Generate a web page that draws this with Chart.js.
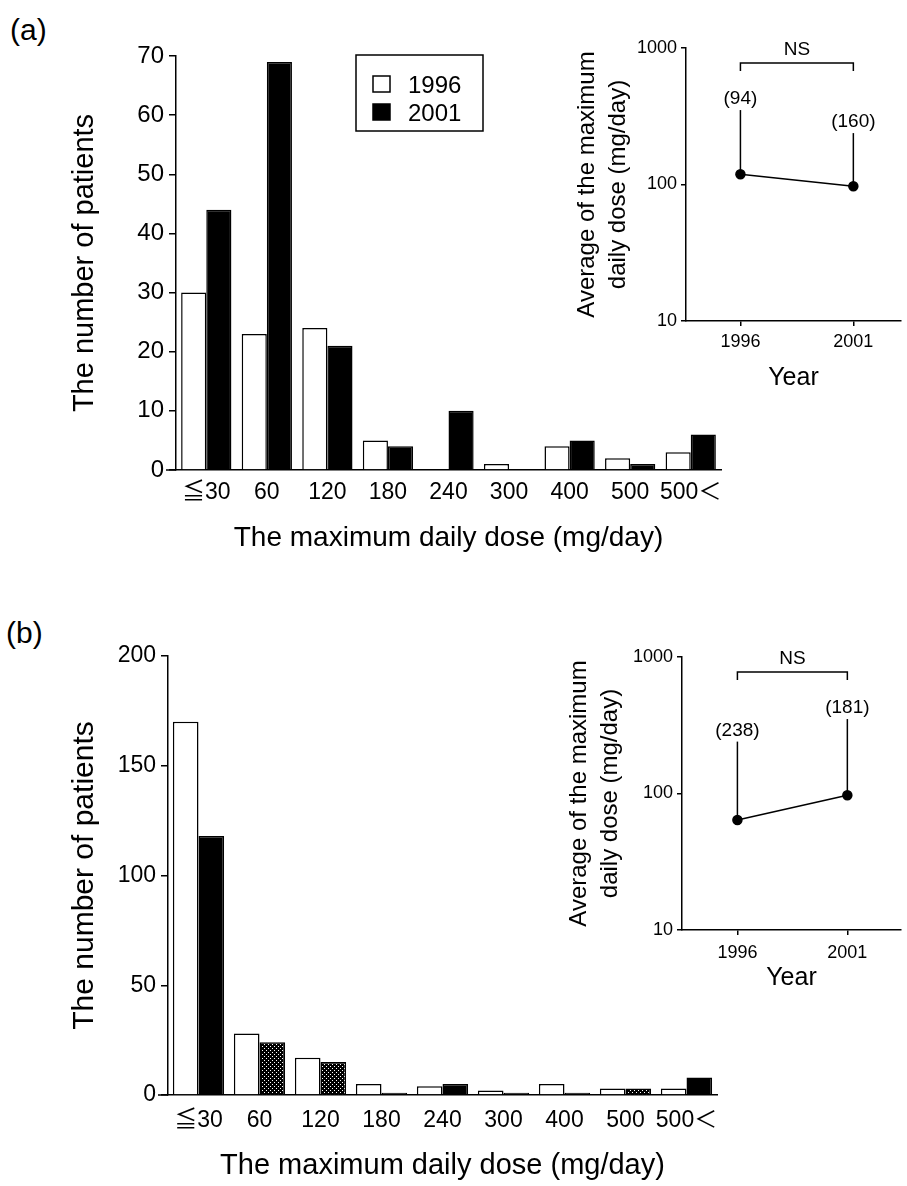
<!DOCTYPE html>
<html>
<head>
<meta charset="utf-8">
<script src="https://cdn.jsdelivr.net/npm/chart.js@4.4.1/dist/chart.umd.min.js"></script>
<style>
  body { margin: 0; background: #fff; }
  #page { position: relative; width: 907px; height: 1186px; font-family: "Liberation Sans", Arial, sans-serif; color: #000; }
  canvas { position: absolute; }
  .tag { position: absolute; font-size: 30px; line-height: 34px; }
</style>
</head>
<body>
<div id="page">
  <div class="tag" style="left:10px; top:13px">(a)</div>
  <div class="tag" style="left:6px; top:616px">(b)</div>
  <canvas id="barA" width="740" height="570" style="left:0; top:0"></canvas>
  <canvas id="insetA" width="367" height="400" style="left:540px; top:0"></canvas>
  <canvas id="barB" width="740" height="586" style="left:0; top:600px"></canvas>
  <canvas id="insetB" width="367" height="400" style="left:540px; top:600px"></canvas>
</div>
<script>
// data
const doseLabels = ['≦30', '60', '120', '180', '240', '300', '400', '500', '500＜'];
const seriesNames = ['1996', '2001'];

// (a)
const patientsA1996 = [30, 23, 24, 5, 0, 1, 4, 2, 3];
const patientsA2001 = [44, 69, 21, 4, 10, 0, 5, 1, 6];
// (b)
const patientsB1996 = [170, 28, 17, 5, 4, 2, 5, 3, 3];
const patientsB2001 = [118, 24, 15, 1, 5, 1, 1, 3, 8];

// insets: average of the maximum daily dose, upper error bar, n
const years = [1996, 2001];
const logTicks = [10, 100, 1000];
const meanDoseA = [119, 97];
const errTopA = [351, 238];
const countA = [94, 160];
const meanDoseB = [64, 97];
const errTopB = [240, 351];
const countB = [238, 181];

const FONT = '"Liberation Sans", Arial, sans-serif';
const TICK_FONT = '"Liberation Sans", "Noto Sans CJK JP", sans-serif';
Chart.defaults.font.family = FONT;
Chart.defaults.color = '#000';

// speckled fill used for some 2001 bars in (b)
function speckle() {
  const c = document.createElement('canvas');
  c.width = 8; c.height = 8;
  const g = c.getContext('2d');
  g.fillStyle = '#000';
  g.fillRect(0, 0, 8, 8);
  g.fillStyle = '#fff';
  for (let i = 0; i < 8; i++) {
    for (let j = 0; j < 8; j++) {
      if ((i * 5 + j * 3 + i * j) % 4 === 0) g.fillRect(i, j, 1, 1);
    }
  }
  return g.createPattern(c, 'repeat');
}

// x axis line runs a little to the left of the y axis
const axisStub = {
  id: 'axisStub',
  afterDraw(chart) {
    const { ctx, chartArea } = chart;
    ctx.save();
    ctx.strokeStyle = '#000';
    ctx.lineWidth = 1.5;
    ctx.beginPath();
    ctx.moveTo(chartArea.left - 10, chartArea.bottom);
    ctx.lineTo(chartArea.left, chartArea.bottom);
    ctx.stroke();
    ctx.restore();
  }
};

// framed legend like the figure's
const boxLegend = {
  id: 'boxLegend',
  afterDraw(chart, args, opts) {
    if (!opts.show) return;
    const ctx = chart.ctx;
    ctx.save();
    ctx.strokeStyle = '#000';
    ctx.lineWidth = 1.5;
    ctx.strokeRect(opts.x, opts.y, opts.w, opts.h);
    ctx.font = '24px ' + FONT;
    ctx.textBaseline = 'middle';
    chart.data.datasets.forEach((ds, i) => {
      const cy = opts.rows[i];
      ctx.fillStyle = ds.legendFill;
      ctx.fillRect(opts.x + 17, cy - 8, 17, 16);
      ctx.strokeRect(opts.x + 17, cy - 8, 17, 16);
      ctx.fillStyle = '#000';
      ctx.fillText(ds.label, opts.x + 52, cy + 2);
    });
    ctx.restore();
  }
};

function makeBar(id, d1996, d2001, cfg) {
  const ctx = document.getElementById(id).getContext('2d');
  const fill2001 = d2001.map((v, i) => cfg.speckled.includes(i) ? speckle() : '#000');
  return new Chart(ctx, {
    type: 'bar',
    data: {
      labels: doseLabels,
      datasets: [
        { label: seriesNames[0], data: d1996, backgroundColor: '#fff', legendFill: '#fff',
          borderColor: '#000', borderWidth: 1.5 },
        { label: seriesNames[1], data: d2001, backgroundColor: fill2001, legendFill: '#000',
          borderColor: '#000', borderWidth: 1.5 }
      ]
    },
    options: {
      responsive: false,
      animation: false,
      devicePixelRatio: 1,
      layout: { padding: { left: 0, top: 56, right: cfg.right, bottom: 0 } },
      datasets: { bar: { categoryPercentage: cfg.catPct, barPercentage: 1.0 } },
      plugins: {
        legend: { display: false },
        tooltip: { enabled: false },
        boxLegend: cfg.legend
      },
      scales: {
        x: {
          grid: { display: false, drawTicks: false },
          border: { display: true, color: '#000', width: 1.5 },
          ticks: { color: '#000', font: { size: 23, family: TICK_FONT }, padding: cfg.xTickPad,
                   autoSkip: false, maxRotation: 0, minRotation: 0 },
          title: { display: true, text: 'The maximum daily dose (mg/day)', color: '#000',
                   font: { size: cfg.xTitleSize }, padding: { top: 0, bottom: cfg.xTitlePad } },
          afterFit: s => { s.height = cfg.xHeight; }
        },
        y: {
          min: 0, max: cfg.yMax,
          grid: { drawOnChartArea: false, drawTicks: true, tickLength: 7, color: '#000', lineWidth: 1.5 },
          border: { display: true, color: '#000', width: 1.5 },
          ticks: { stepSize: cfg.yStep, color: '#000', font: { size: cfg.yTickSize }, padding: 5 },
          title: { display: true, text: 'The number of patients', color: '#000',
                   font: { size: cfg.yTitleSize }, padding: { top: cfg.yTitlePad, bottom: 0 } },
          afterFit: s => { s.width = cfg.yWidth; }
        }
      }
    },
    plugins: [axisStub, boxLegend]
  });
}

// vertical upper error bars, the (n) labels and the NS bracket
const errBars = {
  id: 'errBars',
  beforeDatasetsDraw(chart, args, opts) {
    const { ctx, scales: { x, y }, chartArea } = chart;
    ctx.save();
    ctx.strokeStyle = '#000';
    ctx.fillStyle = '#000';
    ctx.lineWidth = 1.5;
    ctx.font = '19px ' + FONT;
    ctx.textAlign = 'center';
    ctx.textBaseline = 'middle';
    years.forEach((yr, i) => {
      const px = x.getPixelForValue(yr);
      const top = y.getPixelForValue(opts.tops[i]);
      ctx.beginPath();
      ctx.moveTo(px, y.getPixelForValue(opts.means[i]));
      ctx.lineTo(px, top);
      ctx.stroke();
      ctx.fillText('(' + opts.counts[i] + ')', px, top - 11);
    });
    const x0 = x.getPixelForValue(years[0]);
    const x1 = x.getPixelForValue(years[1]);
    const by = chartArea.top + 15;
    ctx.beginPath();
    ctx.moveTo(x0, by + 8);
    ctx.lineTo(x0, by);
    ctx.lineTo(x1, by);
    ctx.lineTo(x1, by + 8);
    ctx.stroke();
    ctx.fillText('NS', (x0 + x1) / 2, by - 13);
    ctx.restore();
  }
};

function makeInset(id, means, tops, counts, cfg) {
  const ctx = document.getElementById(id).getContext('2d');
  return new Chart(ctx, {
    type: 'line',
    data: {
      datasets: [{
        data: years.map((yr, i) => ({ x: yr, y: means[i] })),
        borderColor: '#000', borderWidth: 1.5, tension: 0,
        pointRadius: 4.5, pointBackgroundColor: '#000', pointBorderColor: '#000'
      }]
    },
    options: {
      responsive: false,
      animation: false,
      devicePixelRatio: 1,
      layout: { padding: { left: 0, top: cfg.top, right: 0, bottom: 0 } },
      plugins: {
        legend: { display: false },
        tooltip: { enabled: false },
        errBars: { means: means, tops: tops, counts: counts }
      },
      scales: {
        x: {
          type: 'linear', min: cfg.xMin, max: cfg.xMax,
          afterBuildTicks: s => { s.ticks = years.map(v => ({ value: v })); },
          grid: { drawOnChartArea: false, drawTicks: true, tickLength: 5, color: '#000', lineWidth: 1.5 },
          border: { display: true, color: '#000', width: 1.5 },
          ticks: { color: '#000', font: { size: 18 }, padding: cfg.xTickPad, callback: v => String(v) },
          title: { display: true, text: 'Year', color: '#000', font: { size: 25 }, padding: { top: 0, bottom: 7 } },
          afterFit: s => { s.height = cfg.xHeight; }
        },
        y: {
          type: 'logarithmic', min: 10, max: 1000,
          afterBuildTicks: s => { s.ticks = logTicks.map(v => ({ value: v })); },
          grid: { drawOnChartArea: false, drawTicks: true, tickLength: 5, color: '#000', lineWidth: 1.5 },
          border: { display: true, color: '#000', width: 1.5 },
          ticks: { color: '#000', font: { size: 18 }, padding: 4, callback: v => String(v) },
          title: { display: true, text: ['Average of the maximum', 'daily dose (mg/day)'], color: '#000',
                   font: { size: 24, lineHeight: 31 / 24 }, padding: { top: cfg.yTitlePad, bottom: 0 } },
          afterFit: s => { s.width = cfg.yWidth; }
        }
      }
    },
    plugins: [errBars]
  });
}

makeBar('barA', patientsA1996, patientsA2001, {
  right: 19, catPct: 0.83, yMax: 70, yStep: 10, yWidth: 176, xHeight: 100,
  xTickPad: 9, xTitleSize: 28, xTitlePad: 15, yTickSize: 24, yTitleSize: 29, yTitlePad: 67.6,
  speckled: [],
  legend: { show: true, x: 356, y: 55, w: 127, h: 76, rows: [84, 112] }
});

makeBar('barB', patientsB1996, patientsB2001, {
  right: 23, catPct: 0.84, yMax: 200, yStep: 50, yWidth: 168, xHeight: 91,
  xTickPad: 12, xTitleSize: 29, xTitlePad: 3, yTickSize: 23, yTitleSize: 30, yTitlePad: 67,
  speckled: [1, 2, 7],
  legend: { show: false }
});

makeInset('insetA', meanDoseA, errTopA, countA, {
  top: 48, xMin: 1993.59, xMax: 2003.11, xHeight: 79, xTickPad: 5, yWidth: 146, yTitlePad: 31.5
});

makeInset('insetB', meanDoseB, errTopB, countB, {
  top: 57, xMin: 1993.48, xMax: 2003.44, xHeight: 70, xTickPad: 7, yWidth: 142, yTitlePad: 23.5
});
</script>
</body>
</html>
